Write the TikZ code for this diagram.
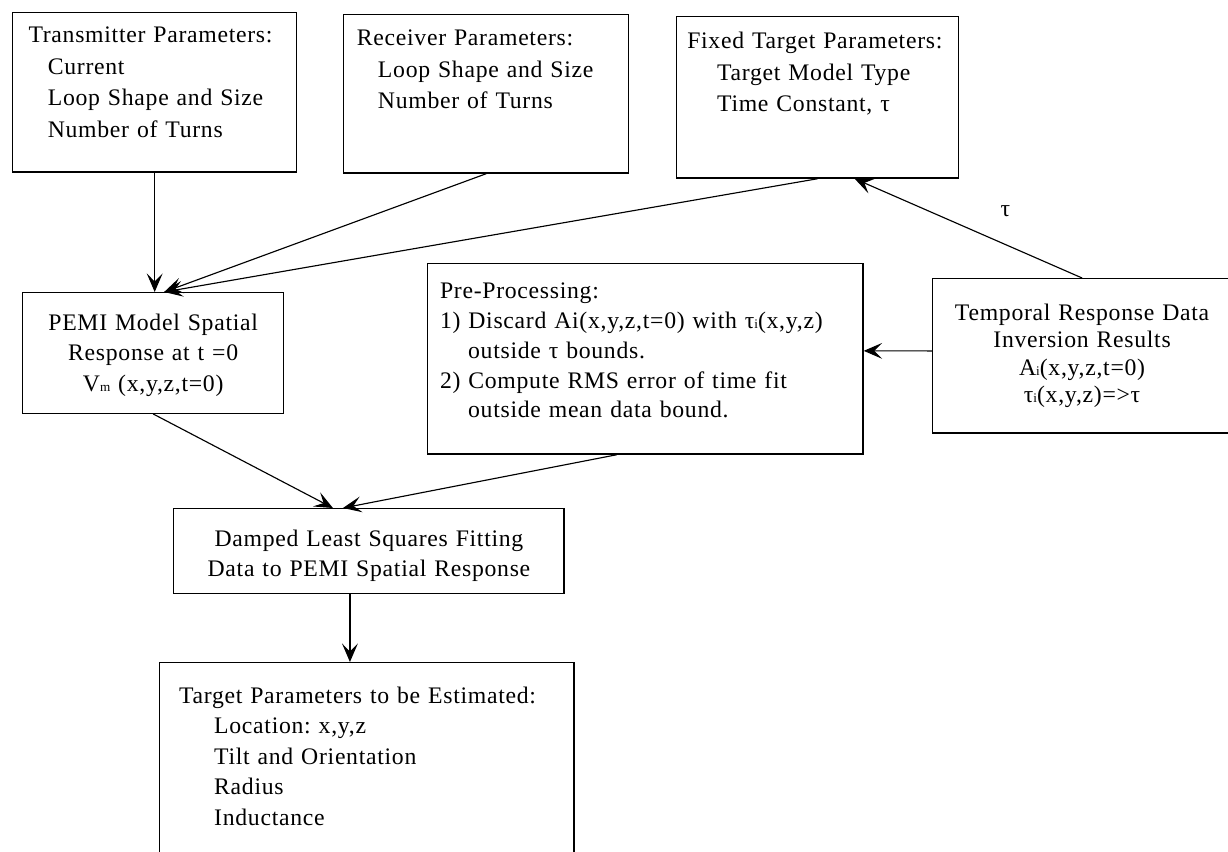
\documentclass[tikz,border=0pt]{standalone}
\usepackage{fontspec}
\setmainfont[LetterSpace=3]{Liberation Serif}
\usetikzlibrary{positioning, arrows.meta, calc}
\newcommand{\smallsub}[1]{{\fontsize{7.5}{8}\selectfont #1}}
\frenchspacing

\tikzset{
    box/.style={draw, line width=0.8pt, anchor=north west, inner ysep=0pt,
        font=\fontsize{13.5}{18}\selectfont},
    flow/.style={-{Stealth[length=10.5pt, width=9pt, inset=4.5pt]}, line width=0.65pt},
}

\begin{document}
\begin{tikzpicture}

        \useasboundingbox (0,0) rectangle (24.56,-17.04);

        % Parameter boxes
        \node[box, align=left, inner xsep=9pt, text width=143.6pt,
            text height=17pt, text depth=73.7pt] (trans) at (0.24,-0.24)
            {Transmitter Parameters:\\ \hspace*{11pt}Current\\
             \hspace*{11pt}Loop Shape and Size\\ \hspace*{11pt}Number of Turns};
        \node[box, align=left, inner xsep=7.5pt, text width=147.1pt,
            text height=17.6pt, text depth=72.5pt] (recv) at (6.86,-0.28)
            {Receiver Parameters:\\ \hspace*{12pt}Loop Shape and Size\\
             \hspace*{12pt}Number of Turns};
        \node[box, align=left, inner xsep=6pt, text width=148.4pt,
            text height=18.1pt, text depth=73.7pt] (fixed) at (13.52,-0.32)
            {Fixed Target Parameters:\\ \hspace*{17pt}Target Model Type\\
             \hspace*{17pt}Time Constant, τ};

        % Middle row
        \node[box, align=center, inner xsep=5pt, text width=138.5pt,
            text height=21.5pt, text depth=47.1pt,
            font=\fontsize{13.5}{17.3}\selectfont] (pemi) at (0.44,-5.84)
            {PEMI Model Spatial\\ Response at t =0\\ V\smallsub{m} (x,y,z,t=0)};
        \node[box, align=left, inner xsep=7pt, text width=233.7pt,
            text height=19.8pt, text depth=88.5pt,
            font=\fontsize{13.5}{17}\selectfont] (pre) at (8.54,-5.26)
            {Pre-Processing:\\
             1) Discard Ai(x,y,z,t=0) with τ\smallsub{i}(x,y,z)\\
             \hspace*{16pt}outside τ bounds.\\
             2) Compute RMS error of time fit\\
             \hspace*{16pt}outside mean data bound.};
        \node[box, align=center, inner xsep=3pt, text width=164pt,
            text height=23.8pt, text depth=64.1pt,
            font=\fontsize{13.5}{15.5}\selectfont] (temporal) at (18.64,-5.56)
            {Temporal Response Data\\ Inversion Results\\
             A\smallsub{i}(x,y,z,t=0)\\ τ\smallsub{i}(x,y,z)=>τ};

        % Fitting and result
        \node[box, align=center, inner xsep=5pt, text width=212.2pt,
            text height=21.5pt, text depth=26.7pt,
            font=\fontsize{13.5}{17}\selectfont] (damped) at (3.46,-10.16)
            {Damped Least Squares Fitting\\ Data to PEMI Spatial Response};
        \node[box, align=left, inner xsep=11pt, text width=213.8pt,
            text height=23.2pt, text depth=90.2pt,
            font=\fontsize{13.5}{17.3}\selectfont] (target) at (3.18,-13.24)
            {Target Parameters to be Estimated:\\
             \hspace*{20pt}Location: x,y,z\\ \hspace*{20pt}Tilt and Orientation\\
             \hspace*{20pt}Radius\\ \hspace*{20pt}Inductance};

        % Connectors
        \coordinate (pemiin) at ([xshift=0.22cm]pemi.north);
        \draw[flow] (trans.south) -- (trans.south |- pemi.north);
        \draw[flow] (recv.south) -- (pemiin);
        \draw[flow] (fixed.south) -- (pemiin);
        \draw[flow] (temporal.north) -- node[pos=0.5, xshift=21pt, yshift=9.6pt]
            {\fontsize{13.5}{16}\selectfont τ} ([xshift=0.74cm]fixed.south);
        \draw[flow] ([yshift=0.1cm]temporal.west) -- ([yshift=0.16cm]pre.east);
        \draw[flow] (pemi.south) -- ([xshift=-0.72cm]damped.north);
        \draw[flow] ([xshift=-0.57cm]pre.south) -- ([xshift=-0.52cm]damped.north);
        \draw[flow] ([xshift=-0.38cm]damped.south)
            -- ([xshift=-0.38cm]damped.south |- target.north);

    \end{tikzpicture}
\end{document}
